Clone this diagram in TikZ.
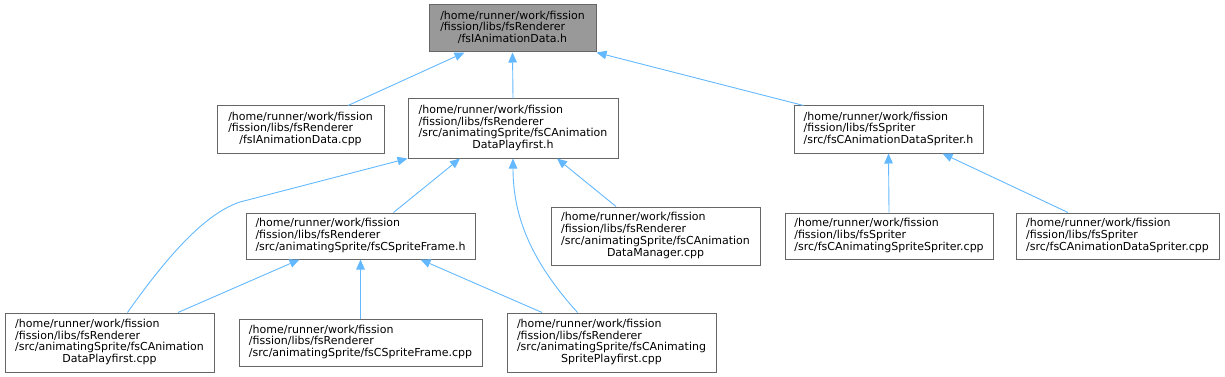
\documentclass[tikz,border=0pt]{standalone}
\usepackage{fontspec}
\setmainfont{DejaVu Sans}
\usepackage{tikz}
\usetikzlibrary{arrows.meta}
\usepackage{xcolor}

\definecolor{edgeblue}{HTML}{63B8FF}
\definecolor{boxgray}{HTML}{666666}
\definecolor{rootgray}{HTML}{999999}

% file name: left aligned lines, last line centred
\newcommand{\fpath}[2]{\begin{tabular}{@{}l@{}}#1\\\multicolumn{1}{@{}c@{}}{#2}\end{tabular}}

\tikzset{
  file/.style={draw=boxgray, line width=1pt, inner sep=0pt, font=\fontsize{11}{11.6}\selectfont},
  incl/.style={draw=edgeblue, line width=0.9pt, -{Triangle[length=10pt,width=8.5pt,fill=edgeblue]}},
}

\begin{document}
\begin{tikzpicture}[x=1pt, y=-1pt]
    \useasboundingbox (0,0) rectangle (1225,377);

    % Top header
    \node[file, fill=rootgray, minimum width=167pt, minimum height=47pt] (root) at (512.5,28.5)
        {\fpath{/home/runner/work/fission\\/fission/libs/fsRenderer}{/fsIAnimationData.h}};

    % Second row
    \node[file, minimum width=167pt, minimum height=47pt] (icpp) at (300.5,129.5)
        {\fpath{/home/runner/work/fission\\/fission/libs/fsRenderer}{/fsIAnimationData.cpp}};
    \node[file, minimum width=210pt, minimum height=59pt] (playh) at (513,128.5)
        {\fpath{/home/runner/work/fission\\/fission/libs/fsRenderer\\/src/animatingSprite/fsCAnimation}{DataPlayfirst.h}};
    \node[file, minimum width=189pt, minimum height=47pt] (spriterh) at (888.5,129.5)
        {\fpath{/home/runner/work/fission\\/fission/libs/fsSpriter}{/src/fsCAnimationDataSpriter.h}};

    % Third row
    \node[file, minimum width=229pt, minimum height=46pt] (frameh) at (360.5,236)
        {\fpath{/home/runner/work/fission\\/fission/libs/fsRenderer}{/src/animatingSprite/fsCSpriteFrame.h}};
    \node[file, minimum width=209pt, minimum height=58pt] (managercpp) at (655.5,236)
        {\fpath{/home/runner/work/fission\\/fission/libs/fsRenderer\\/src/animatingSprite/fsCAnimation}{DataManager.cpp}};
    \node[file, minimum width=208pt, minimum height=46pt] (animsprcpp) at (889,236)
        {\fpath{/home/runner/work/fission\\/fission/libs/fsSpriter}{/src/fsCAnimatingSpriteSpriter.cpp}};
    \node[file, minimum width=203pt, minimum height=46pt] (datasprcpp) at (1117.5,236)
        {\fpath{/home/runner/work/fission\\/fission/libs/fsSpriter}{/src/fsCAnimationDataSpriter.cpp}};

    % Bottom row
    \node[file, minimum width=209pt, minimum height=59pt] (playcpp) at (109.5,342.5)
        {\fpath{/home/runner/work/fission\\/fission/libs/fsRenderer\\/src/animatingSprite/fsCAnimation}{DataPlayfirst.cpp}};
    \node[file, minimum width=243pt, minimum height=47pt] (framecpp) at (360.5,342.5)
        {\fpath{/home/runner/work/fission\\/fission/libs/fsRenderer}{/src/animatingSprite/fsCSpriteFrame.cpp}};
    \node[file, minimum width=209pt, minimum height=59pt] (animplaycpp) at (611.5,342.5)
        {\fpath{/home/runner/work/fission\\/fission/libs/fsRenderer\\/src/animatingSprite/fsCAnimating}{SpritePlayfirst.cpp}};

    % Include edges
    \draw[incl] ([xshift=47.5pt]icpp.north) -- ([xshift=-48pt]root.south);
    \draw[incl] (playh.north) -- (root.south);
    \draw[incl] ([xshift=-85pt]spriterh.north) -- (root.south east);

    \draw[incl] ([xshift=18pt]playcpp.north) .. controls (175,245) and (210,212) .. (240,202) -- (playh.south west);
    \draw[incl] ([xshift=33pt]frameh.north) -- ([xshift=-53pt]playh.south);
    \draw[incl] ([xshift=-34pt]animplaycpp.north) .. controls (530,260) and (513,215) .. (playh.south);
    \draw[incl] ([xshift=-39.5pt]managercpp.north) -- ([xshift=44pt]playh.south);

    \draw[incl] ([xshift=68.5pt]playcpp.north) -- ([xshift=-61pt]frameh.south);
    \draw[incl] (framecpp.north) -- (frameh.south);
    \draw[incl] ([xshift=-69.5pt]animplaycpp.north) -- ([xshift=60pt]frameh.south);

    \draw[incl] (animsprcpp.north) -- (spriterh.south);
    \draw[incl] ([xshift=-49.5pt]datasprcpp.north) -- ([xshift=54pt]spriterh.south);
\end{tikzpicture}
\end{document}
